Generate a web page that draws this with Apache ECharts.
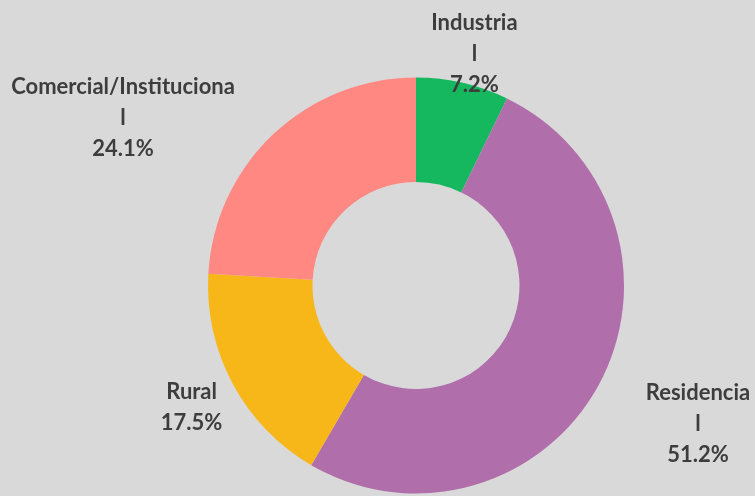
<!DOCTYPE html>
<html>
<head>
<meta charset="utf-8">
<script src="https://cdn.jsdelivr.net/npm/echarts@6/dist/echarts.min.js"></script>
<style>
  html, body { margin: 0; padding: 0; background: #d9d9d9; }
  #chart { width: 755px; height: 496px; }
</style>
</head>
<body>
<div id="chart"></div>
<script>
  const sectors = ['Industrial', 'Residencial', 'Rural', 'Comercial/Institucional'];
  const shares = [7.2, 51.2, 17.5, 24.1];
  const colors = ['#15b85e', '#b06fab', '#f8b719', '#ff8882'];
  // which labels got squeezed onto an extra line in the original
  const wrapped = [true, true, false, true];

  const FONT = 'bold 22px Lato';
  const ctx = document.createElement('canvas').getContext('2d');
  ctx.font = FONT;
  const wrapWidth = name => Math.ceil(ctx.measureText(name.slice(0, -1)).width) + 1;

  // nudges of each label block from where the pie layout puts it
  const nudge = [[-44, 0], [14, 26], [21, 9], [-12, 5]];

  const chart = echarts.init(document.getElementById('chart'));
  chart.setOption({
    backgroundColor: '#d9d9d9',
    animation: false,
    series: [{
      type: 'pie',
      center: [416, 285.5],
      radius: [103.5, 208],
      startAngle: 90,
      clockwise: true,
      avoidLabelOverlap: false,
      label: {
        show: true,
        position: 'outside',
        formatter: '{b}\n{c}%',
        fontFamily: 'Lato',
        fontWeight: 'bold',
        fontSize: 22,
        lineHeight: 31,
        color: '#3d3d3d',
        overflow: 'breakAll'
      },
      labelLine: { show: false, length: 30, length2: 0 },
      labelLayout: p => ({
        x: p.labelRect.x + p.labelRect.width / 2,
        y: p.labelRect.y + p.labelRect.height / 2,
        align: 'center',
        verticalAlign: 'middle',
        dx: nudge[p.dataIndex][0],
        dy: nudge[p.dataIndex][1]
      }),
      data: sectors.map((name, i) => ({
        name: name,
        value: shares[i],
        itemStyle: { color: colors[i] },
        label: wrapped[i] ? { width: wrapWidth(name) } : {}
      }))
    }]
  });
</script>
</body>
</html>
